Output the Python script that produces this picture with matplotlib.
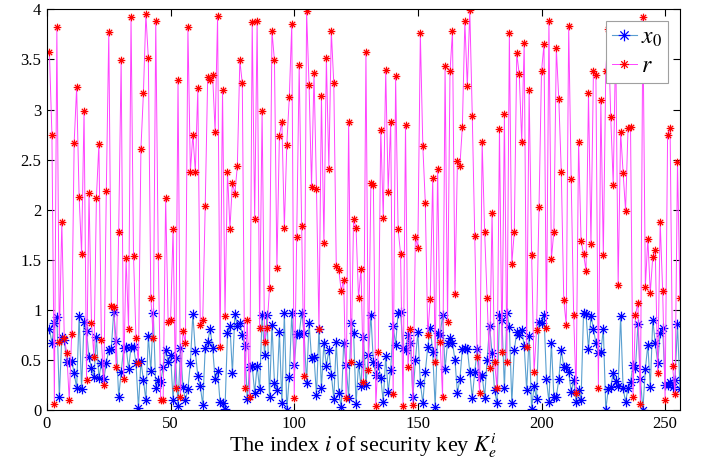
import numpy as np
import matplotlib
matplotlib.use("Agg")
import matplotlib.pyplot as plt
from matplotlib.path import Path

# values (index 1..256)
x0 = [0.81, 0.67, 0.87, 0.93, 0.13, 0.73, 0.70, 0.48, 0.48, 0.49,
      0.37, 0.22, 0.94, 0.21, 0.88, 0.79, 0.53, 0.42, 0.33, 0.73,
      0.32, 0.47, 0.31, 0.47, 0.60, 0.61, 0.98, 0.69, 0.13, 0.38,
      0.62, 0.63, 0.41, 0.63, 0.63, 0.47, 0.02, 0.49, 0.30, 0.10,
      0.74, 0.39, 0.97, 0.22, 0.30, 0.28, 0.43, 0.60, 0.48, 0.55,
      0.10, 0.52, 0.04, 0.62, 0.23, 0.10, 0.21, 0.47, 0.96, 0.59,
      0.34, 0.24, 0.05, 0.62, 0.68, 0.81, 0.62, 0.31, 0.39, 0.08,
      0.07, 0.01, 0.77, 0.84, 0.37, 0.96, 0.84, 0.87, 0.75, 0.64,
      0.11, 0.43, 0.44, 0.17, 0.44, 0.21, 0.95, 0.55, 0.95, 0.13,
      0.85, 0.27, 0.20, 0.78, 0.07, 0.97, 0.00, 0.33, 0.97, 0.45,
      0.76, 0.76, 0.97, 0.77, 0.27, 0.87, 0.52, 0.53, 0.15, 0.81,
      0.22, 0.67, 0.44, 0.60, 0.35, 0.11, 0.68, 0.17, 0.03, 0.67,
      0.45, 0.12, 0.87, 0.77, 0.06, 0.46, 0.24, 0.73, 0.25, 0.55,
      0.95, 0.48, 0.35, 0.45, 0.32, 0.08, 0.54, 0.18, 0.40, 0.84,
      0.65, 0.97, 0.98, 0.62, 0.60, 0.75, 0.67, 0.13, 0.50, 0.78,
      0.27, 0.07, 0.38, 0.63, 0.82, 0.58, 0.03, 0.77, 0.75, 0.95,
      0.41, 0.67, 0.72, 0.67, 0.50, 0.17, 0.31, 0.61, 0.62, 0.61,
      0.38, 0.12, 0.38, 0.61, 0.33, 0.35, 0.12, 0.50, 0.84, 0.57,
      0.20, 0.07, 0.95, 0.90, 0.22, 0.97, 0.83, 0.07, 0.60, 0.78,
      0.75, 0.80, 0.64, 0.20, 0.74, 0.01, 0.24, 0.11, 0.88, 0.87,
      0.95, 0.31, 0.08, 0.67, 0.13, 0.13, 0.31, 0.60, 0.43, 0.43,
      0.38, 0.18, 0.30, 0.08, 0.20, 0.10, 0.97, 0.96, 0.61, 0.94,
      0.81, 0.67, 0.57, 0.58, 0.81, 0.00, 0.21, 0.23, 0.37, 0.29,
      0.24, 0.94, 0.22, 0.08, 0.22, 0.28, 0.45, 0.42, 0.86, 0.31,
      0.00, 0.41, 0.65, 0.23, 0.90, 0.67, 0.47, 0.77, 0.82, 0.25,
      0.25, 0.28, 0.23, 0.30, 0.86, 0.21]

r = [3.57, 2.75, 0.06, 3.82, 0.68, 1.88, 0.72, 0.57, 0.10, 0.76,
     2.67, 3.22, 2.13, 1.56, 2.99, 0.30, 2.17, 0.87, 0.53, 2.12,
     2.66, 0.70, 0.25, 2.19, 3.77, 1.04, 1.03, 0.43, 1.78, 3.49,
     0.31, 1.52, 0.81, 3.92, 1.54, 0.72, 0.47, 2.61, 3.16, 3.95,
     3.51, 1.12, 0.72, 3.88, 1.54, 0.10, 0.10, 2.12, 0.88, 0.90,
     1.81, 0.22, 3.29, 0.13, 0.79, 0.67, 3.82, 2.38, 2.75, 2.38,
     3.21, 0.85, 0.90, 2.04, 3.32, 3.29, 3.34, 2.78, 3.93, 0.63,
     3.19, 0.94, 2.38, 1.81, 2.27, 2.16, 2.44, 3.49, 3.26, 0.22,
     0.90, 0.13, 3.87, 1.91, 3.88, 0.82, 2.99, 0.68, 0.82, 1.22,
     3.78, 3.49, 1.42, 2.74, 2.88, 1.82, 2.65, 3.12, 3.85, 0.12,
     1.73, 3.44, 1.84, 0.34, 3.98, 3.24, 2.23, 3.36, 2.21, 0.81,
     3.13, 1.67, 3.51, 2.41, 3.78, 3.26, 1.44, 1.40, 1.19, 1.30,
     0.12, 2.88, 0.48, 1.91, 1.82, 1.12, 1.41, 0.28, 3.57, 0.40,
     2.27, 2.25, 0.04, 0.58, 2.80, 1.92, 3.39, 2.18, 2.88, 0.16,
     3.33, 1.81, 1.56, 0.04, 2.85, 0.43, 0.81, 0.05, 1.73, 1.62,
     3.76, 2.64, 2.07, 0.75, 1.11, 2.32, 0.48, 2.41, 0.68, 0.13,
     3.43, 0.88, 3.38, 3.78, 1.16, 2.49, 2.44, 2.83, 3.88, 3.23,
     3.99, 2.94, 1.74, 0.53, 0.17, 2.68, 1.78, 1.12, 0.42, 1.97,
     0.48, 0.22, 2.81, 0.58, 2.96, 0.48, 3.76, 1.46, 1.78, 3.56,
     3.35, 2.68, 3.66, 0.63, 3.19, 1.55, 0.38, 0.80, 2.03, 3.38,
     3.65, 0.82, 3.88, 1.51, 1.78, 3.61, 3.10, 2.38, 1.10, 0.85,
     3.83, 2.31, 0.95, 0.17, 2.68, 1.69, 1.56, 1.39, 3.16, 1.66,
     3.38, 3.34, 0.22, 3.09, 1.55, 3.38, 3.80, 2.93, 2.25, 3.67,
     1.25, 2.78, 2.37, 1.99, 2.82, 2.83, 0.13, 0.95, 1.07, 0.06,
     3.92, 1.23, 1.71, 1.17, 1.53, 1.60, 0.37, 1.88, 1.19, 0.10,
     2.75, 2.82, 0.44, 0.16, 2.48, 1.12]

idx = np.arange(1, len(x0) + 1)
xticks = [0, 50, 100, 150, 200, 250]
yticks = [0, 0.5, 1, 1.5, 2, 2.5, 3, 3.5, 4]

plt.rcParams["font.family"] = ["Liberation Serif", "DejaVu Serif"]
plt.rcParams["mathtext.fontset"] = "stix"

# MATLAB style asterisk: + and x together
c = 0.7071
star = Path([(-1, 0), (1, 0), (0, -1), (0, 1), (-c, -c), (c, c), (-c, c), (c, -c)],
            [Path.MOVETO, Path.LINETO] * 4)

fig = plt.figure(figsize=(7.01, 4.67), dpi=100)
ax = fig.add_axes([0.067, 0.122, 0.903, 0.858])

ax.plot(idx, x0, color="#5a9fd0", lw=0.8, marker=star, ms=7,
        mec="#0000ff", mfc="none", mew=0.9, label="$x_0$")
ax.plot(idx, r, color="#ff44ff", lw=0.7, marker=star, ms=5.5,
        mec="#ff0000", mfc="none", mew=0.9, label="$r$")

ax.set_xlim(0, 256)
ax.set_ylim(0, 4)
ax.set_xticks(xticks)
ax.set_yticks(yticks)
ax.set_yticklabels(["%g" % v for v in yticks])
ax.tick_params(direction="in", length=5, width=0.8, top=True, right=True,
               labelsize=12, pad=4)
for s in ax.spines.values():
    s.set_linewidth(0.8)
ax.set_xlabel("The index $i$ of security key $K_e^i$", fontsize=16, labelpad=0)

leg = ax.legend(loc="upper right", fontsize=17, fancybox=False, framealpha=1,
                edgecolor="#a0a0a0", borderaxespad=0.5, handlelength=1.05,
                handletextpad=0.2, borderpad=0.25, labelspacing=0.3,
                markerscale=1.2)
leg.get_frame().set_linewidth(0.8)

fig.savefig("out.png", dpi=100)
